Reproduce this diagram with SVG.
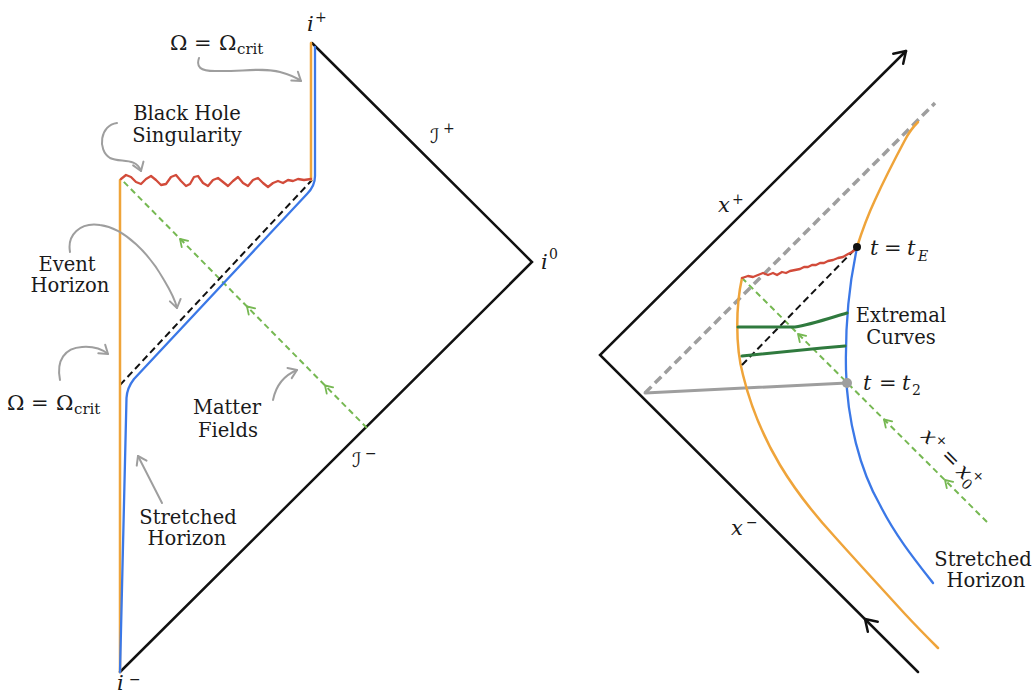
<svg xmlns="http://www.w3.org/2000/svg" width="1034" height="695" viewBox="0 0 1034 695">
<defs>
<style>
text{font-family:'DejaVu Serif',serif;fill:#1a1a1a}
.t{font-size:19.5px}
.m{font-size:21px}
.s{font-size:14px}
.it{font-style:italic}
.sc{font-family:'DejaVu Serif','DejaVu Sans',serif;font-size:20px}
.blk{stroke:#111;stroke-width:2.5;fill:none;stroke-linecap:round;stroke-linejoin:miter}
.orange{stroke:#EFA43A;stroke-width:2.5;fill:none;stroke-linecap:round;stroke-linejoin:round}
.blue{stroke:#3B78E7;stroke-width:2.3;fill:none;stroke-linecap:round;stroke-linejoin:round}
.red{stroke:#D24B3A;stroke-width:2.3;fill:none;stroke-linecap:round;stroke-linejoin:round}
.gdash{stroke:#76B852;stroke-width:2;fill:none;stroke-dasharray:6 4}
.kdash{stroke:#111;stroke-width:2;fill:none;stroke-dasharray:7 4}
.gray{stroke:#9E9E9E;stroke-width:2;fill:none;stroke-linecap:round;marker-end:url(#ga)}
.dgreen{stroke:#2F7A3E;stroke-width:3;fill:none;stroke-linecap:round;stroke-linejoin:round}
</style>
<marker id="ga" viewBox="-11 -8 14 16" markerWidth="14" markerHeight="16" refX="0" refY="0" orient="auto" markerUnits="userSpaceOnUse">
<path d="M-8,-5.5 L0,0 L-8,5.5" fill="none" stroke="#9E9E9E" stroke-width="2" stroke-linecap="round" stroke-linejoin="round"/>
</marker>
<path id="gchev" d="M-7,-4.5 L0,0 L-7,4.5" fill="none" stroke="#76B852" stroke-width="1.8" stroke-linecap="round" stroke-linejoin="round"/>
<path id="kchev" d="M-11,-7 L0,0 L-11,7" fill="none" stroke="#111" stroke-width="2.5" stroke-linecap="round" stroke-linejoin="round"/>
</defs>
<rect width="1034" height="695" fill="#fff"/>

<g id="connectors">
  <g id="left-boundary">
    <path class="blk" d="M120,672 L532,262 L312,43"/>
  </g>
  <path id="left-green" class="gdash" d="M367,428 L121,179"/>
  <use href="#gchev" transform="translate(180,239) rotate(-134.7)"/>
  <use href="#gchev" transform="translate(247,306.5) rotate(-134.7)"/>
  <use href="#gchev" transform="translate(325,385.5) rotate(-134.7)"/>
  <path id="left-event-horizon" class="kdash" d="M120,385 L312,180"/>
  <path id="left-orange" class="orange" d="M120,672 L120,180 M311,180 L311,43"/>
  <path id="left-blue" class="blue" d="M120,672 L126.5,398 Q127,388 134,379 L307,194 Q315,186 315,176 L315,47"/>
  <path id="left-singularity" class="red" d="M121,179 L126,175 L131,177 L136,182 L141,184 L146,179 L151,176 L156,180 L161,185 L166,184 L171,177 L176,175 L181,181 L186,186 L190,184 L194,177 L198,176 L203,183 L208,186 L213,180 L218,178 L223,182 L228,186 L233,181 L238,177 L243,183 L248,186 L253,180 L258,178 L263,183 L268,187 L273,183 L278,181 L283,183 L288,180 L293,181 L298,179 L304,180 L311,179"/>

  <path class="gray" d="M199,58 C196,67 200,71 215,71 C240,72 262,67 280,72 C291,75 297,78 301,81"/>
  <path class="gray" d="M117,123 C100,125 97,150 110,158 C120,163 136,157 141,171"/>
  <path class="gray" d="M70,252 C67,235 80,222 100,225 C125,228 150,255 164,280 C170,290 175,299 177,308"/>
  <path class="gray" d="M60,380 C56,360 65,348 82,347 C95,346 103,350 108,354"/>
  <path class="gray" d="M273,400 C276,385 285,375 297,370"/>
  <path class="gray" d="M162,503 L138,456"/>

  <path id="right-axes" class="blk" d="M906,51 L600,355 L918,672"/>
  <use href="#kchev" transform="translate(906,51) rotate(-45)"/>
  <use href="#kchev" transform="translate(865,619) rotate(-135)"/>
  <path id="right-gray-dash" d="M645,393 L935,103" stroke="#9E9E9E" stroke-width="3.5" stroke-dasharray="9 5" fill="none"/>
  <path id="right-gray-line" d="M645,393 L847,383" stroke="#9E9E9E" stroke-width="3" fill="none" stroke-linecap="round"/>
  <path id="right-green" class="gdash" d="M987,522 L742,278"/>
  <use href="#gchev" transform="translate(798,334) rotate(-135)"/>
  <use href="#gchev" transform="translate(884,419.5) rotate(-135)"/>
  <use href="#gchev" transform="translate(945,480) rotate(-135)"/>
  <path id="right-orange" class="orange" d="M742,278 C736,305 735,345 743,375 C751,408 764,438 780,465 C795,490 812,512 835,537 C860,565 885,592 905,614 C918,628 928,638 938,648"/>
  <path id="right-orange-top" class="orange" d="M857,247 C863,228 868,215 875,200 C885,178 897,155 905,140 C909,132 913,127 918,122"/>
  <path id="right-blue" class="blue" d="M857,248 C850,280 845,320 846,370 C847,420 860,470 880,505 C895,535 915,560 933,583"/>
  <path id="right-event-horizon" class="kdash" d="M742,365 L857,247"/>
  <path id="right-singularity" class="red" d="M742,278 L748,276 L753,277 L758,275 L763,273 L768,275 L773,273 L777,275 L782,272 L786,273 L790,271 L795,270 L800,269 L804,267 L808,267 L812,265 L816,265 L820,263 L824,263 L828,261 L833,260 L838,258 L843,257 L848,254 L852,252 L857,248"/>
  <path id="extremal-1" class="dgreen" d="M738,327 L795,327 C810,325 830,318 847,313"/>
  <path id="extremal-2" class="dgreen" d="M742,356 L822,348 L845,346"/>
  <circle cx="857" cy="247" r="4" fill="#111"/>
  <circle cx="847" cy="383" r="5" fill="#9E9E9E"/>
</g>

<g id="label-iplus"><text class="m"><tspan class="it" x="307" y="31">i</tspan><tspan class="s" x="315" y="22">+</tspan></text></g>
<g id="label-i0"><text class="m"><tspan class="it" x="541" y="269">i</tspan><tspan class="s" x="549" y="259">0</tspan></text></g>
<g id="label-iminus"><text class="m" font-size="20"><tspan class="it" x="117" y="690">i</tspan><tspan class="s" x="129" y="684">−</tspan></text></g>
<g id="label-scri-plus"><text class="sc"><tspan x="430" y="143">ℐ</tspan><tspan class="s" x="443" y="133">+</tspan></text></g>
<g id="label-scri-minus"><text class="sc"><tspan x="352" y="467">ℐ</tspan><tspan class="s" x="365" y="458">−</tspan></text></g>
<g id="label-omega-top"><text class="m"><tspan x="170" y="50">Ω</tspan><tspan x="194" y="50">=</tspan><tspan x="219" y="50">Ω</tspan><tspan x="237" y="54" font-size="15">crit</tspan></text></g>
<g id="label-omega-left"><text class="m"><tspan x="7" y="410">Ω</tspan><tspan x="31" y="410">=</tspan><tspan x="56" y="410">Ω</tspan><tspan x="74" y="414" font-size="15">crit</tspan></text></g>
<g id="label-singularity"><text class="t" text-anchor="middle"><tspan x="187" y="120">Black Hole</tspan><tspan x="187" y="142">Singularity</tspan></text></g>
<g id="label-event-horizon"><text class="t" text-anchor="middle"><tspan x="67" y="271">Event</tspan><tspan x="70" y="292">Horizon</tspan></text></g>
<g id="label-matter"><text class="t" text-anchor="middle"><tspan x="227" y="414">Matter</tspan><tspan x="228" y="437">Fields</tspan></text></g>
<g id="label-stretched-left"><text class="t" text-anchor="middle"><tspan x="188" y="524">Stretched</tspan><tspan x="187" y="545">Horizon</tspan></text></g>

<g id="label-xplus"><text class="m"><tspan class="it" x="718" y="212">x</tspan><tspan class="s" x="732" y="204">+</tspan></text></g>
<g id="label-xminus"><text class="m"><tspan class="it" x="731" y="535">x</tspan><tspan class="s" x="746" y="527">−</tspan></text></g>
<g id="label-tE"><text class="m"><tspan class="it" x="870" y="255">t</tspan><tspan x="884" y="255">=</tspan><tspan class="it" x="907" y="255">t</tspan><tspan class="it s" x="918" y="261">E</tspan></text></g>
<g id="label-t2"><text class="m"><tspan class="it" x="863" y="390">t</tspan><tspan x="879" y="390">=</tspan><tspan class="it" x="902" y="390">t</tspan><tspan class="s" x="912" y="395">2</tspan></text></g>
<g id="label-extremal"><text class="t" text-anchor="middle"><tspan x="901" y="322">Extremal</tspan><tspan x="901" y="344">Curves</tspan></text></g>
<g id="label-stretched-right"><text class="t" text-anchor="middle"><tspan x="983" y="566">Stretched</tspan><tspan x="986" y="587">Horizon</tspan></text></g>
<g id="label-x0" transform="translate(920,437) rotate(45)"><text class="m" font-size="20"><tspan class="it" x="0" y="0">x</tspan><tspan class="s" x="12" y="-8">+</tspan><tspan x="28" y="0">=</tspan><tspan class="it" x="50" y="0">x</tspan><tspan class="s" x="62" y="5">0</tspan><tspan class="s" x="63" y="-9">+</tspan></text></g>
</svg>
